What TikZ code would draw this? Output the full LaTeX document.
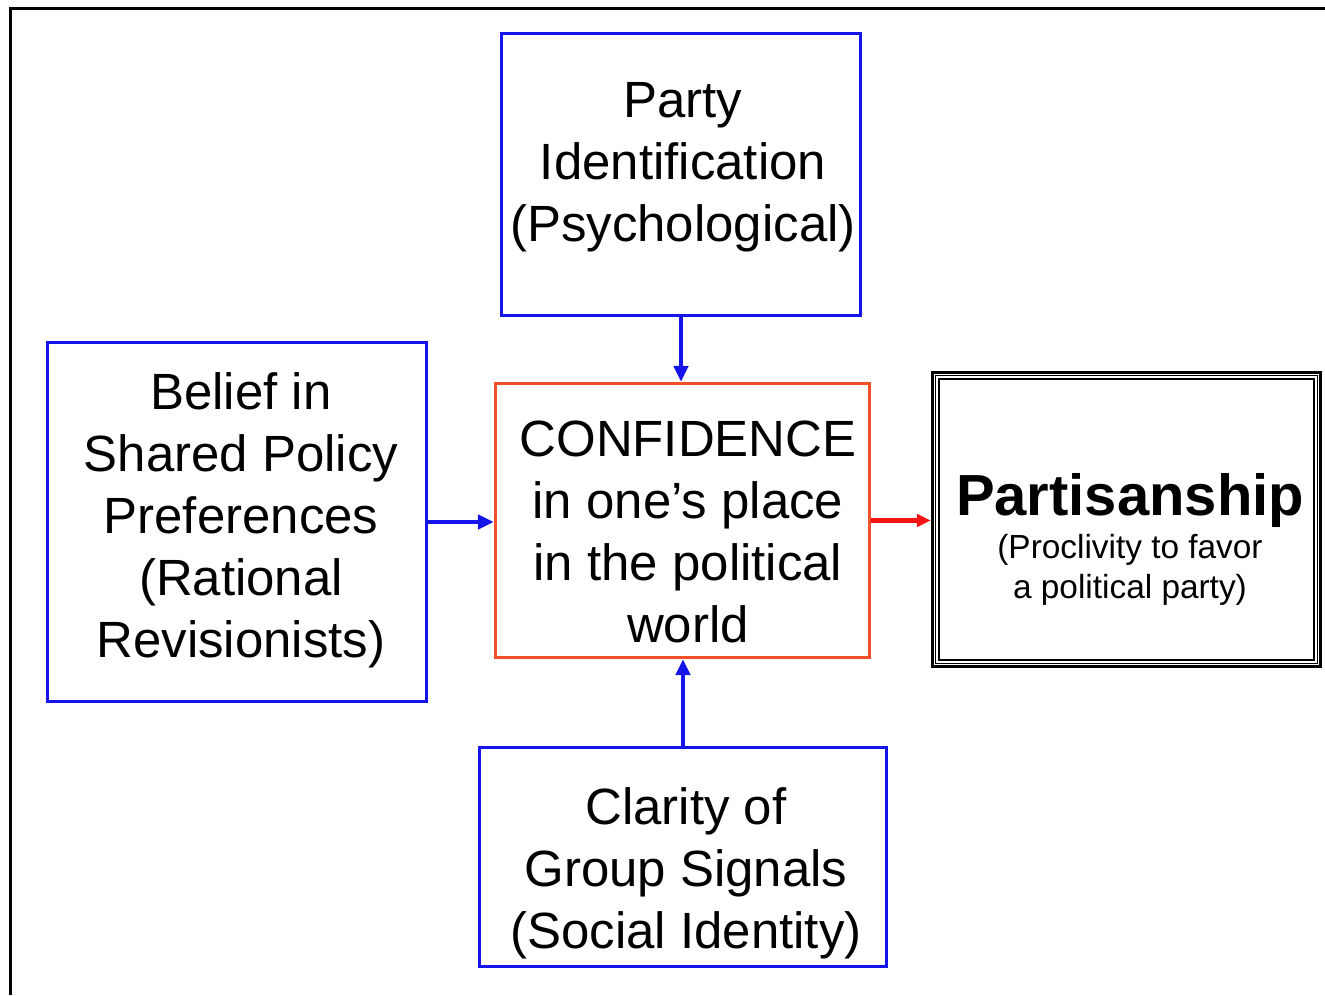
\documentclass[tikz,border=0pt]{standalone}
\usepackage{fontspec}
\setmainfont{Liberation Sans}
\usetikzlibrary{arrows.meta}
\definecolor{boxblue}{RGB}{20,20,235}
\definecolor{confred}{RGB}{240,80,40}
\definecolor{linkred}{RGB}{245,20,20}
\tikzset{
  factor/.style={draw=boxblue,line width=2pt},
  confbox/.style={draw=confred,line width=2pt},
  words/.style={align=center,inner sep=0pt,font=\fontsize{29}{35.3}\selectfont},
  link/.style={draw=boxblue,line width=2.4pt,-{Triangle[length=9pt,width=8pt]}},
}
\begin{document}
\begin{tikzpicture}[x=0.02cm,y=-0.02cm]
                \useasboundingbox (0,0) rectangle (1325,995);
                \draw[line width=2.2pt] (10.5,995) -- (10.5,8.5) -- (1325,8.5);

                \path (681,174.5) node[factor,minimum width=7.18cm,minimum height=5.64cm] (party) {};
                \path (237,522) node[factor,minimum width=7.58cm,minimum height=7.18cm] (belief) {};
                \path (682.5,520.5) node[confbox,minimum width=7.48cm,minimum height=5.48cm] (conf) {};
                \path (683,857) node[factor,minimum width=8.14cm,minimum height=4.38cm] (clarity) {};
                \path (1126.5,519.5) node[draw,line width=1.9pt,minimum width=7.76cm,minimum height=5.88cm] (partisan) {};
                \draw[line width=0.6pt] ([shift={(5,5)}]partisan.north west) rectangle ([shift={(-5,-5)}]partisan.south east);
                \draw[line width=1.1pt] ([shift={(8,8)}]partisan.north west) rectangle ([shift={(-8,-8)}]partisan.south east);

                \path (683,167) node[words] (partytext) {Party\\Identification\\(Psychological)};
                \path (241,520) node[words] (belieftext) {Belief in\\Shared Policy\\Preferences\\(Rational\\Revisionists)};
                \path (688,532) node[words] (conftext) {CONFIDENCE\\in one’s place\\in the political\\world};
                \path (686,873) node[words] (claritytext) {Clarity of\\Group Signals\\(Social Identity)};
                \path (1130,500) node[inner sep=0pt,font=\fontsize{33}{40}\selectfont\bfseries] (partisantitle) {Partisanship};
                \path (1130,570) node[words,font=\fontsize{19}{22.8}\selectfont] (partisansub) {(Proclivity to favor\\a political party)};

                \draw[link] (party.south) -- (party.south |- conf.north);
                \draw[link] (belief.east) -- (belief.east -| conf.west);
                \draw[link] (clarity.north) -- (clarity.north |- conf.south);
                \draw[link,draw=linkred,line width=2.4pt,-{Triangle[length=8pt,width=7pt]}] (conf.east) -- (conf.east -| partisan.west);
              \end{tikzpicture}
\end{document}
